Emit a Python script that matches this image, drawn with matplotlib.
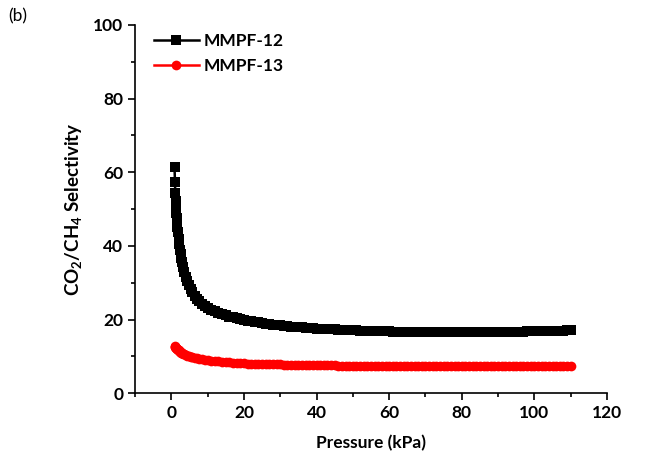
import matplotlib
matplotlib.use("Agg")
import matplotlib.pyplot as plt
from matplotlib.ticker import MultipleLocator

plt.rcParams['font.family'] = ['Lato', 'DejaVu Sans']
plt.rcParams['mathtext.fontset'] = 'custom'
plt.rcParams['mathtext.bf'] = 'Lato:bold'
plt.rcParams['mathtext.rm'] = 'Lato'

# pressure points (kPa), shared by both series
pressure = [0.9, 1.0, 1.1, 1.2, 1.3, 1.4, 1.5, 1.6, 1.7, 1.8,
            2.0, 2.2, 2.4, 2.6, 2.8, 3.0, 3.3, 3.6, 4.0, 4.4,
            4.8, 5.3, 5.8, 6.4, 7.0, 7.7, 8.5, 9.3,
            10, 11, 12, 13, 14, 15, 16, 17, 18, 19,
            20, 21, 22, 23, 24, 25, 26, 27, 28, 29,
            30, 31, 32, 33, 34, 35, 36, 37, 38, 39,
            40, 41, 42, 43, 44, 45, 46, 47, 48, 49,
            50, 51, 52, 53, 54, 55, 56, 57, 58, 59,
            60, 61, 62, 63, 64, 65, 66, 67, 68, 69,
            70, 71, 72, 73, 74, 75, 76, 77, 78, 79,
            80, 81, 82, 83, 84, 85, 86, 87, 88, 89,
            90, 91, 92, 93, 94, 95, 96, 97, 98, 99,
            100, 101, 102, 103, 104, 105, 106, 107, 108, 109,
            110]

sel_mmpf12 = [61.3, 57.4, 54.4, 52.3, 50.5, 48.9, 47.5, 46.2, 45.0, 43.9,
              42.0, 40.4, 39.0, 37.7, 36.6, 35.6, 34.2, 33.0, 31.6, 30.4,
              29.4, 28.3, 27.4, 26.5, 25.7, 25.0, 24.3, 23.7,
              23.2, 22.7, 22.2, 21.8, 21.4, 21.1, 20.8, 20.55, 20.3, 20.1,
              19.9, 19.7, 19.5, 19.35, 19.2, 19.05, 18.9, 18.75, 18.6, 18.5,
              18.4, 18.3, 18.2, 18.1, 18.0, 17.92, 17.85, 17.78, 17.7, 17.62,
              17.55, 17.5, 17.45, 17.4, 17.35, 17.3, 17.25, 17.2, 17.15, 17.1,
              17.05, 17.02, 17.0, 16.95, 16.9, 16.88, 16.85, 16.82, 16.8, 16.78,
              16.75, 16.72, 16.7, 16.68, 16.65, 16.62, 16.6, 16.6, 16.6, 16.58,
              16.55, 16.55, 16.55, 16.52, 16.5, 16.5, 16.5, 16.5, 16.5, 16.5,
              16.5, 16.5, 16.5, 16.52, 16.55, 16.55, 16.55, 16.58, 16.6, 16.6,
              16.6, 16.62, 16.65, 16.68, 16.7, 16.7, 16.7, 16.72, 16.75, 16.78,
              16.8, 16.82, 16.85, 16.88, 16.9, 16.92, 16.95, 16.98, 17.0, 17.02,
              17.05]

sel_mmpf13 = [12.7, 12.6, 12.5, 12.4, 12.3, 12.2, 12.1, 12.0, 11.9, 11.8,
              11.6, 11.45, 11.3, 11.15, 11.0, 10.9, 10.7, 10.55, 10.35, 10.2,
              10.05, 9.9, 9.75, 9.6, 9.45, 9.3, 9.15, 9.0,
              8.9, 8.8, 8.7, 8.6, 8.5, 8.43, 8.35, 8.28, 8.2, 8.15,
              8.1, 8.05, 8.0, 7.97, 7.95, 7.92, 7.9, 7.87, 7.85, 7.82,
              7.8, 7.78, 7.75, 7.72, 7.7, 7.68, 7.65, 7.62, 7.6, 7.6,
              7.6, 7.58, 7.55, 7.55, 7.55, 7.52, 7.5, 7.5, 7.5, 7.5,
              7.5, 7.48, 7.45, 7.45, 7.45, 7.45, 7.45, 7.42, 7.4, 7.4,
              7.4, 7.4, 7.4, 7.4, 7.4, 7.4, 7.4, 7.38, 7.35, 7.35,
              7.35, 7.35, 7.35, 7.35, 7.35, 7.35, 7.35, 7.33, 7.32, 7.3,
              7.3, 7.3, 7.3, 7.3, 7.3, 7.3, 7.3, 7.3, 7.3, 7.3,
              7.3, 7.3, 7.3, 7.3, 7.3, 7.3, 7.3, 7.3, 7.3, 7.3,
              7.3, 7.3, 7.3, 7.3, 7.3, 7.3, 7.3, 7.3, 7.3, 7.3,
              7.3]

fig = plt.figure(figsize=(6.52, 4.62), dpi=100)
ax = fig.add_axes([0.207, 0.149, 0.724, 0.797])

ax.plot(pressure, sel_mmpf12, color='black', marker='s', markersize=6.8, mew=0, lw=1.8,
        label='MMPF-12')
ax.plot(pressure, sel_mmpf13, color='red', marker='o', markersize=7, mew=0, lw=1.8,
        label='MMPF-13')

ax.set_xlim(-10, 120)
ax.set_ylim(0, 100)
ax.xaxis.set_major_locator(MultipleLocator(20))
ax.xaxis.set_minor_locator(MultipleLocator(10))
ax.yaxis.set_major_locator(MultipleLocator(20))
ax.yaxis.set_minor_locator(MultipleLocator(10))
ax.spines['top'].set_visible(False)
ax.spines['right'].set_visible(False)
for s in ['left', 'bottom']:
    ax.spines[s].set_linewidth(1.2)
ax.tick_params(which='major', direction='out', length=5, width=1.2, labelsize=12.5)
ax.tick_params(which='minor', direction='out', length=3, width=1.2)
for lab in ax.get_xticklabels() + ax.get_yticklabels():
    lab.set_fontweight('bold')

ax.set_xlabel('Pressure (kPa)', fontsize=12.5, fontweight='bold', labelpad=10)
ax.set_ylabel(r'CO$_\mathbf{2}$/CH$_\mathbf{4}$ Selectivity', fontsize=13.5, fontweight='bold', labelpad=6)

leg = ax.legend(loc='upper left', bbox_to_anchor=(0.01, 1.015), frameon=False,
                prop={'weight': 'bold', 'size': 12.5},
                handlelength=2.6, handletextpad=0.3, labelspacing=0.5, borderaxespad=0.4)

fig.text(0.012, 0.953, '(b)', fontsize=12.5)

fig.savefig('out.png', dpi=100)
